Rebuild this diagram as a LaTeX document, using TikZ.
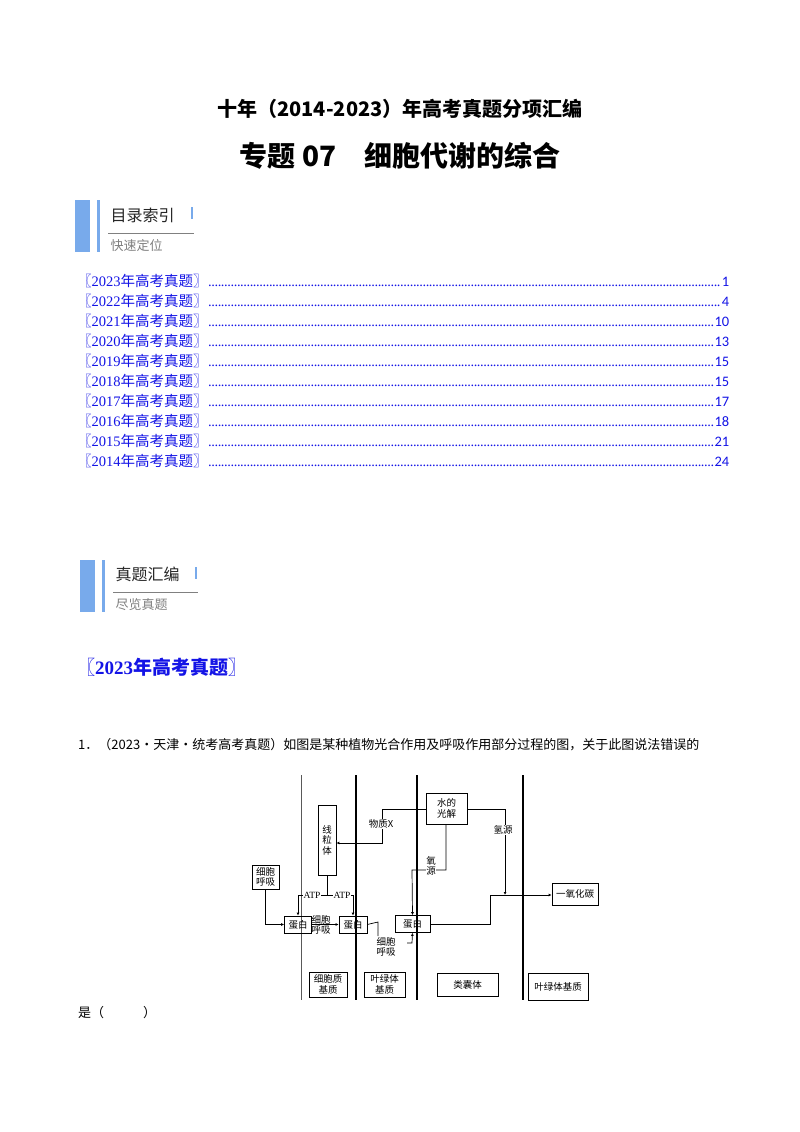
\documentclass[tikz,border=0pt]{standalone}
\usepackage{fontspec}
\setmainfont{Liberation Serif}
\newfontfamily\cjk{Noto Sans CJK SC}
\newfontfamily\numf{Carlito}
\usetikzlibrary{arrows.meta}
\definecolor{tocblue}{RGB}{20,20,230}
\definecolor{barblue}{RGB}{120,170,235}
\tikzset{
 lab/.style={font=\cjk\fontsize{9.5}{10.5}\selectfont, inner sep=0.5pt, align=center},
 bx/.style={draw, line width=0.6pt, inner sep=0pt},
 ln/.style={line width=0.7pt},
 arr/.style={ln, -{Latex[open,length=3pt,width=3pt]}},
 vl/.style={line width=1.2pt},
 toc/.style={anchor=west, inner sep=0pt, text=tocblue, text width=652pt, font=\fontsize{14.5}{16}\selectfont},
}
\begin{document}
\begin{tikzpicture}[x=1pt,y=-1pt]
\useasboundingbox[fill=white] (0,0) rectangle (800,1132);
\node[font=\cjk\bfseries\fontsize{20}{22}\selectfont] (t1) at (400,109) {十年（2014-2023）年高考真题分项汇编};
\node[font=\cjk\bfseries\fontsize{28}{30}\selectfont] (t2) at (400,156) {专题 07\quad 细胞代谢的综合};
% block 1
\fill[barblue] (75,200) rectangle (90,252);
\fill[barblue] (97,200) rectangle (100,252);
\node[anchor=west, font=\cjk\fontsize{16}{18}\selectfont, text=black!85] (m1) at (107,215) {目录索引};
\fill[barblue] (191,207) rectangle (193,219);
\draw[gray, line width=0.8pt] (108,233) -- (194,233);
\node[anchor=west, font=\cjk\fontsize{13}{15}\selectfont, text=gray] (m2) at (107,246) {快速定位};
% toc
\foreach \y/\yr/\p in {281/2023/1,301/2022/4,321/2021/10,341/2020/13,361/2019/15,381/2018/15,401/2017/17,421/2016/18,441/2015/21,461/2014/24}{
 \node[toc] at (77,\y) {{\cjk 〖}\yr{\cjk 年高考真题〗}\leaders\hbox to 3.2pt{\hss.\hss}\hfill{\numf\p}};
}
% block 2
\fill[barblue] (80,560) rectangle (95,612);
\fill[barblue] (102,560) rectangle (105,612);
\node[anchor=west, font=\cjk\fontsize{16}{18}\selectfont, text=black!85] (m3) at (112,574) {真题汇编};
\fill[barblue] (195,567) rectangle (197,579);
\draw[gray, line width=0.8pt] (113,592) -- (198,592);
\node[anchor=west, font=\cjk\fontsize{13}{15}\selectfont, text=gray] (m4) at (112,605) {尽览真题};
\node[anchor=west, font=\bfseries\fontsize{19}{21}\selectfont, text=tocblue, inner sep=0pt] (h) at (76,667) {{\cjk\bfseries 〖}2023{\cjk\bfseries 年高考真题〗}};
\node[anchor=west, font=\cjk\fontsize{13}{15}\selectfont, inner sep=0pt] (q) at (78,745) {1．（2023·天津·统考高考真题）如图是某种植物光合作用及呼吸作用部分过程的图，关于此图说法错误的};
\node[anchor=west, font=\cjk\fontsize{13}{15}\selectfont, inner sep=0pt] (q2) at (78,1013) {是（\hspace{3em}）};
% diagram
\draw[line width=0.7pt, gray!70!black] (301,775) -- (301,1000);
\draw[vl] (356,775) -- (356,1000);
\draw[vl] (417,775) -- (417,1000);
\draw[vl] (523,775) -- (523,1000);
\node[bx, lab, minimum width=18pt, minimum height=70pt] (mt) at (327,840) {线\\粒\\体};
\node[bx, lab, minimum width=41pt, minimum height=31pt] (ws) at (446.5,808.5) {水的\\光解};
\node[bx, lab, minimum width=27pt, minimum height=24pt] (cr) at (265.5,877) {细胞\\呼吸};
\node[bx, lab, minimum width=27pt, minimum height=17pt] (p1) at (298,924.5) {蛋白};
\node[bx, lab, minimum width=28pt, minimum height=17pt] (p2) at (353,924.5) {蛋白};
\node[bx, lab, minimum width=35pt, minimum height=17pt] (p3) at (412.5,924) {蛋白};
\node[bx, lab, minimum width=46pt, minimum height=22pt] (co) at (575,894) {一氧化碳};
\node[bx, lab, minimum width=38pt, minimum height=25pt] (b1) at (328,984.5) {细胞质\\基质};
\node[bx, lab, minimum width=41pt, minimum height=25pt] (b2) at (384.5,984.5) {叶绿体\\基质};
\node[bx, lab, minimum width=61pt, minimum height=23pt] (b3) at (467.5,985) {类囊体};
\node[bx, lab, minimum width=60pt, minimum height=27pt] (b4) at (558,986.5) {叶绿体基质};
% 物质X
\draw[arr] (ws.west |- 0,809) -- (382,809) -- (382,843) -- (mt.east |- 0,843);
\node[lab, fill=white] (lx) at (381,824) {物质X};
% 氢源
\coordinate (jn) at (490,895);
\draw[arr] (ws.east |- 0,809) -- (505,809) -- (505,895);
\node[lab, fill=white] (lh) at (503,830) {氢源};
\draw[arr] (p3.east) -- (490,924) -- (jn) -- (co.west |- jn);
% 氧源
\draw[arr] (446,824) -- (446,870) -- (412,870) -- (p3.north);
\node[lab, fill=white] (lo) at (431,866) {氧\\源};
% ATP
\coordinate (atp) at (327,895);
\draw[ln] (mt.south) -- (atp);
\draw[arr] (atp) -- (298,895) -- (p1.north);
\draw[arr] (atp) -- (353,895) -- (p2.north);
\node[lab, fill=white, font=\fontsize{9.5}{10}\selectfont] (a1) at (312,895) {ATP};
\node[lab, fill=white, font=\fontsize{9.5}{10}\selectfont] (a2) at (342,895) {ATP};
\draw[arr] (cr.south) -- (265.5,924.5) -- (p1.west);
\draw[arr] (p1.east) -- (p2.west);
\node[lab] (lc1) at (321,925) {细胞\\呼吸};
\node[lab] (lc2) at (386,947) {细胞\\呼吸};
\draw[ln] (p2.east) -- (378,922) -- (378,936);
\draw[arr] (407,943) -- (412,943) -- (p3.south);
\end{tikzpicture}
\end{document}
